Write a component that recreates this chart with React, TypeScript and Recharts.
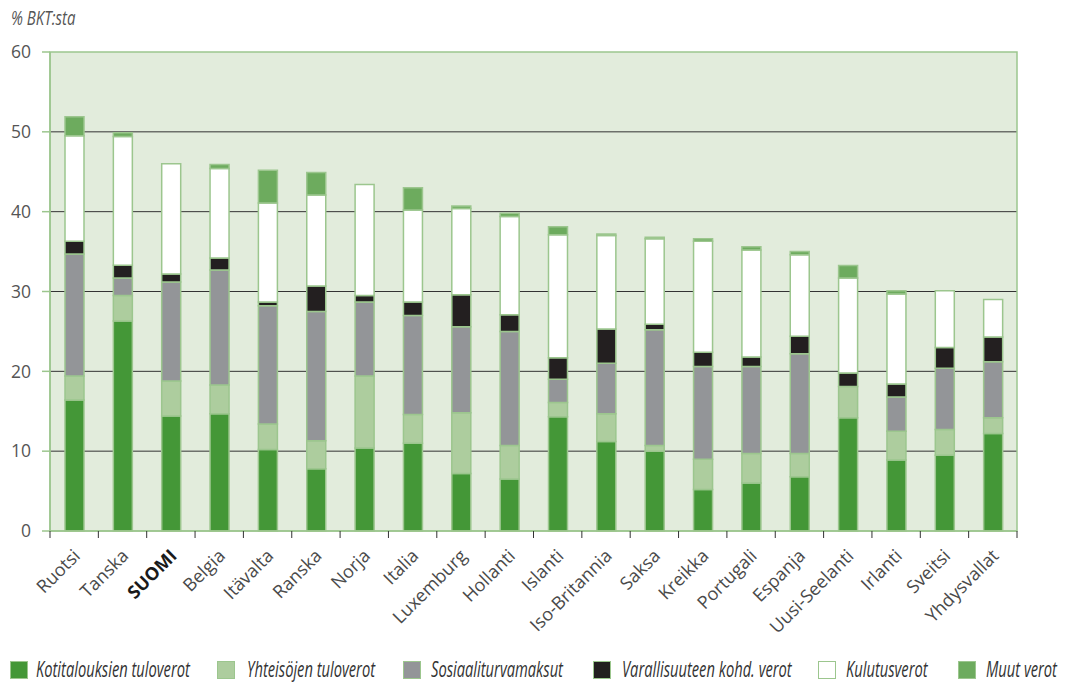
import React from "react";
import { BarChart, Bar, XAxis, YAxis, CartesianGrid, ReferenceArea } from "recharts";

const countries = [
  "Ruotsi", "Tanska", "SUOMI", "Belgia", "Itävalta", "Ranska", "Norja", "Italia", "Luxemburg", "Hollanti",
  "Islanti", "Iso-Britannia", "Saksa", "Kreikka", "Portugali", "Espanja", "Uusi-Seelanti", "Irlanti", "Sveitsi", "Yhdysvallat",
];
const kotitalous = [16.4, 26.3, 14.4, 14.7, 10.2, 7.8, 10.4, 11.0, 7.2, 6.5, 14.3, 11.2, 10.0, 5.2, 6.0, 6.8, 14.2, 8.9, 9.5, 12.2];
const yhteiso = [3.0, 3.2, 4.4, 3.6, 3.2, 3.5, 9.0, 3.6, 7.6, 4.2, 1.8, 3.5, 0.7, 3.8, 3.7, 2.9, 3.9, 3.6, 3.2, 2.0];
const sosiaali = [15.3, 2.2, 12.4, 14.4, 14.8, 16.2, 9.3, 12.4, 10.8, 14.3, 2.9, 6.3, 14.5, 11.6, 10.9, 12.5, 0, 4.3, 7.7, 7.0];
const varallisuus = [1.6, 1.6, 1.0, 1.5, 0.5, 3.2, 0.8, 1.7, 4.0, 2.1, 2.7, 4.3, 0.7, 1.8, 1.2, 2.2, 1.7, 1.6, 2.6, 3.1];
const kulutus = [13.2, 16.1, 13.8, 11.2, 12.4, 11.4, 13.9, 11.5, 10.8, 12.3, 15.4, 11.7, 10.7, 13.9, 13.4, 10.2, 11.9, 11.3, 7.1, 4.7];
const muut = [2.4, 0.5, 0, 0.5, 4.1, 2.8, 0, 2.8, 0.3, 0.4, 1.0, 0.2, 0.2, 0.3, 0.4, 0.4, 1.55, 0.4, 0, 0];
const yTicks = [0, 10, 20, 30, 40, 50, 60];

const FONT = '"Open Sans", "Noto Sans", sans-serif';
const EDGE = "#9cc68e";
// the reference uses a condensed italic; squeeze Open Sans to match
const SQUEEZE = 0.7;

const SERIES = [
  { key: "kotitalous", name: "Kotitalouksien tuloverot", fill: "#449737", box: 10, label: 36 },
  { key: "yhteiso", name: "Yhteisöjen tuloverot", fill: "#adcd9e", box: 217, label: 247 },
  { key: "sosiaali", name: "Sosiaaliturvamaksut", fill: "#939598", box: 403, label: 431 },
  { key: "varallisuus", name: "Varallisuuteen kohd. verot", fill: "#231f20", box: 593, label: 622 },
  { key: "kulutus", name: "Kulutusverot", fill: "#ffffff", box: 818, label: 846 },
  { key: "muut", name: "Muut verot", fill: "#6dab5e", box: 958, label: 986 },
];

const rows = countries.map((maa, i) => ({
  maa,
  kotitalous: kotitalous[i],
  yhteiso: yhteiso[i],
  sosiaali: sosiaali[i],
  varallisuus: varallisuus[i],
  kulutus: kulutus[i],
  muut: muut[i],
}));

function CountryTick(props: any) {
  const { x, y, payload, index } = props;
  const off = payload?.offset ?? 24.2;
  const bold = payload.value === "SUOMI";
  const ax = x + 7;
  const ay = y + 26;
  return (
    <g>
      <line x1={x - off} x2={x - off} y1={y} y2={y + 7} stroke="#333" strokeWidth={1} />
      {index === countries.length - 1 && (
        <line x1={x + off} x2={x + off} y1={y} y2={y + 7} stroke="#333" strokeWidth={1} />
      )}
      <text
        x={0}
        y={0}
        textAnchor="end"
        transform={`translate(${ax} ${ay}) rotate(-45)`}
        fontSize={18}
        fontFamily={FONT}
        fontWeight={bold ? 700 : 400}
        fill={bold ? "#1a1a1a" : "#4a4a4a"}
      >
        {payload.value}
      </text>
    </g>
  );
}

export default function App() {
  return (
    <div style={{ position: "absolute", left: 0, top: 0, width: 1066, height: 686, background: "#fff", fontFamily: FONT }}>
      <div
        style={{
          position: "absolute",
          left: 11,
          top: 4,
          fontSize: 20,
          fontStyle: "italic",
          color: "#555",
          transform: `scaleX(${SQUEEZE + 0.05})`,
          transformOrigin: "left",
          whiteSpace: "nowrap",
        }}
      >
        % BKT:sta
      </div>
      <BarChart
        width={1066}
        height={686}
        data={rows}
        margin={{ top: 52, right: 49, bottom: 0, left: 0 }}
        barSize={19}
      >
        <CartesianGrid fill="#e2ecdc" vertical={false} horizontalValues={[10, 20, 30, 40, 50]} stroke="#333" strokeWidth={1} />
        <ReferenceArea y1={0} y2={60} fill="none" stroke={EDGE} strokeWidth={1.5} fillOpacity={0} />
        <XAxis
          dataKey="maa"
          interval={0}
          tickSize={0}
          tickMargin={0}
          tickLine={false}
          axisLine={{ stroke: EDGE, strokeWidth: 1.5 }}
          tick={<CountryTick />}
          height={155}
        />
        <YAxis
          width={50}
          domain={[0, 60]}
          ticks={yTicks}
          tickSize={8}
          tickMargin={11}
          axisLine={{ stroke: EDGE, strokeWidth: 1.5 }}
          tickLine={{ stroke: EDGE, strokeWidth: 1.5 }}
          tick={{ fill: "#555", fontSize: 17.5, fontFamily: FONT }}
        />
        {SERIES.map((s) => (
          <Bar
            key={s.key}
            dataKey={s.key}
            name={s.name}
            stackId="a"
            fill={s.fill}
            stroke={EDGE}
            strokeWidth={1.5}
            isAnimationActive={false}
          />
        ))}
      </BarChart>
      {SERIES.map((s) => (
        <React.Fragment key={s.key}>
          <span
            style={{
              position: "absolute",
              left: s.box,
              top: 661,
              width: 16,
              height: 16,
              background: s.fill,
              border: `1.5px solid ${EDGE}`,
            }}
          />
          <span
            style={{
              position: "absolute",
              left: s.label,
              top: 654,
              fontSize: 21,
              lineHeight: "30px",
              fontStyle: "italic",
              color: "#333",
              whiteSpace: "nowrap",
              transform: `scaleX(${SQUEEZE})`,
              transformOrigin: "left",
            }}
          >
            {s.name}
          </span>
        </React.Fragment>
      ))}
    </div>
  );
}
